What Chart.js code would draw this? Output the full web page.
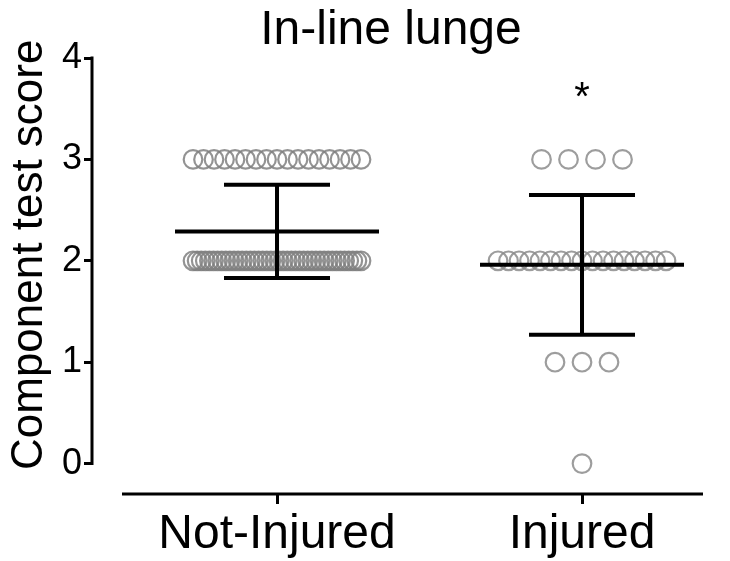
<!DOCTYPE html>
<html>
<head>
<meta charset="utf-8">
<script src="https://cdn.jsdelivr.net/npm/chart.js@4.4.1/dist/chart.umd.min.js"></script>
<style>
  html, body { margin: 0; padding: 0; background: #fff; }
  #wrap { width: 730px; height: 561px; }
</style>
</head>
<body>
<div id="wrap"><canvas id="myChart" width="730" height="561"></canvas></div>
<script>
// groups on the x axis
let groups = ["Not-Injured", "Injured"]
// possible scores (y)
let scoreLevels = [0, 1, 2, 3]
// how many subjects got each score, per group
let notInjuredCounts = [0, 0, 42, 17]
let injuredCounts = [1, 3, 17, 4]
// mean and SD drawn as error bars
let means = [2.29, 1.96]
let sds = [0.46, 0.69]
// significance marks above each group
let sigMarks = ["", "*"]
let yTicks = [0, 1, 2, 3, 4]
let chartTitle = "In-line lunge"
let yTitle = "Component test score"

const FONT = "'Liberation Sans', Arial, Helvetica, sans-serif"
const PX_PER_UNIT = 305   // x pixels per group step, used to spread the dots

// spread the dots of one score row side by side around the group centre
function buildPoints(counts, groupPos) {
  let pts = []
  counts.forEach((n, k) => {
    if (n === 0) return
    let span = Math.min(27 * (n - 1), 168)
    let step = n > 1 ? span / (n - 1) : 0
    for (let i = 0; i < n; i++) {
      let dx = (i - (n - 1) / 2) * step / PX_PER_UNIT
      pts.push({ x: groupPos + dx, y: scoreLevels[k] })
    }
  })
  return pts
}

// error bars, axis lines, titles and the asterisk
const extras = {
  id: "extras",
  afterDatasetsDraw(chart) {
    const ctx = chart.ctx
    const xs = chart.scales.x
    const ys = chart.scales.y
    const area = chart.chartArea
    const yTop = ys.getPixelForValue(yTicks[yTicks.length - 1])
    const yBot = ys.getPixelForValue(yTicks[0])
    ctx.save()
    ctx.strokeStyle = "#000"
    ctx.lineCap = "butt"

    // mean +/- SD
    ctx.lineWidth = 4
    means.forEach((m, i) => {
      let cx = xs.getPixelForValue(i + 1)
      let ym = ys.getPixelForValue(m)
      let yt = ys.getPixelForValue(m + sds[i])
      let yb = ys.getPixelForValue(m - sds[i])
      ctx.beginPath()
      ctx.moveTo(cx - 102, ym); ctx.lineTo(cx + 102, ym)
      ctx.moveTo(cx - 53, yt); ctx.lineTo(cx + 53, yt)
      ctx.moveTo(cx - 53, yb); ctx.lineTo(cx + 53, yb)
      ctx.moveTo(cx, yt); ctx.lineTo(cx, yb)
      ctx.stroke()
    })

    // axis lines (y axis stops at 0, x axis is offset below)
    ctx.lineWidth = 3
    ctx.beginPath()
    ctx.moveTo(area.left, yTop - 1.5)
    ctx.lineTo(area.left, yBot + 1.5)
    ctx.moveTo(area.left + 30, area.bottom)
    ctx.lineTo(area.right, area.bottom)
    ctx.stroke()

    ctx.fillStyle = "#000"
    ctx.textAlign = "center"
    ctx.textBaseline = "middle"

    // significance marks
    ctx.font = "40px " + FONT
    sigMarks.forEach((s, i) => {
      if (!s) return
      ctx.fillText(s, xs.getPixelForValue(i + 1), ys.getPixelForValue(3.6))
    })

    // chart title
    ctx.textBaseline = "alphabetic"
    ctx.font = "48px " + FONT
    ctx.fillText(chartTitle, 391, 44)

    // y axis title, centred on the 0..4 range
    ctx.font = "44px " + FONT
    ctx.textBaseline = "middle"
    ctx.translate(30, (yTop + yBot) / 2 - 6)
    ctx.rotate(-Math.PI / 2)
    ctx.fillText(yTitle, 0, 0)
    ctx.restore()
  }
}

let ctx = document.getElementById("myChart").getContext("2d")

let myChart = new Chart(ctx, {
  type: "scatter",
  data: {
    datasets: [
      {
        label: groups[0],
        data: buildPoints(notInjuredCounts, 1),
        borderColor: "rgba(128,128,128,0.85)",
        backgroundColor: "rgba(0,0,0,0)",
        borderWidth: 2.2,
        pointRadius: 9.3,
        pointHoverRadius: 9.3
      },
      {
        label: groups[1],
        data: buildPoints(injuredCounts, 2),
        borderColor: "rgba(140,140,140,0.85)",
        backgroundColor: "rgba(0,0,0,0)",
        borderWidth: 2.2,
        pointRadius: 9.3,
        pointHoverRadius: 9.3
      }
    ]
  },
  options: {
    responsive: false,
    animation: false,
    layout: { padding: { left: 0, right: 27, top: 58, bottom: 0 } },
    plugins: {
      legend: { display: false },
      tooltip: { enabled: false },
      title: { display: false }
    },
    scales: {
      x: {
        type: "linear",
        min: 0.3934,
        max: 2.3967,
        afterFit: s => { s.height = 67 },
        afterBuildTicks: s => { s.ticks = groups.map((g, i) => ({ value: i + 1 })) },
        ticks: {
          color: "#000",
          padding: 2,
          maxRotation: 0,
          font: { family: FONT, size: 48 },
          callback: v => groups[v - 1]
        },
        grid: { drawOnChartArea: false, drawTicks: true, tickLength: 10, color: "#000", lineWidth: 3 },
        border: { display: false }
      },
      y: {
        min: -0.3,
        max: 4,
        afterFit: s => { s.width = 92 },
        afterBuildTicks: s => { s.ticks = yTicks.map(v => ({ value: v })) },
        ticks: {
          color: "#000",
          padding: 2,
          font: { family: FONT, size: 36 }
        },
        grid: { drawOnChartArea: false, drawTicks: true, tickLength: 8, color: "#000", lineWidth: 3 },
        border: { display: false },
        title: { display: false }
      }
    }
  },
  plugins: [extras]
})
</script>
</body>
</html>
